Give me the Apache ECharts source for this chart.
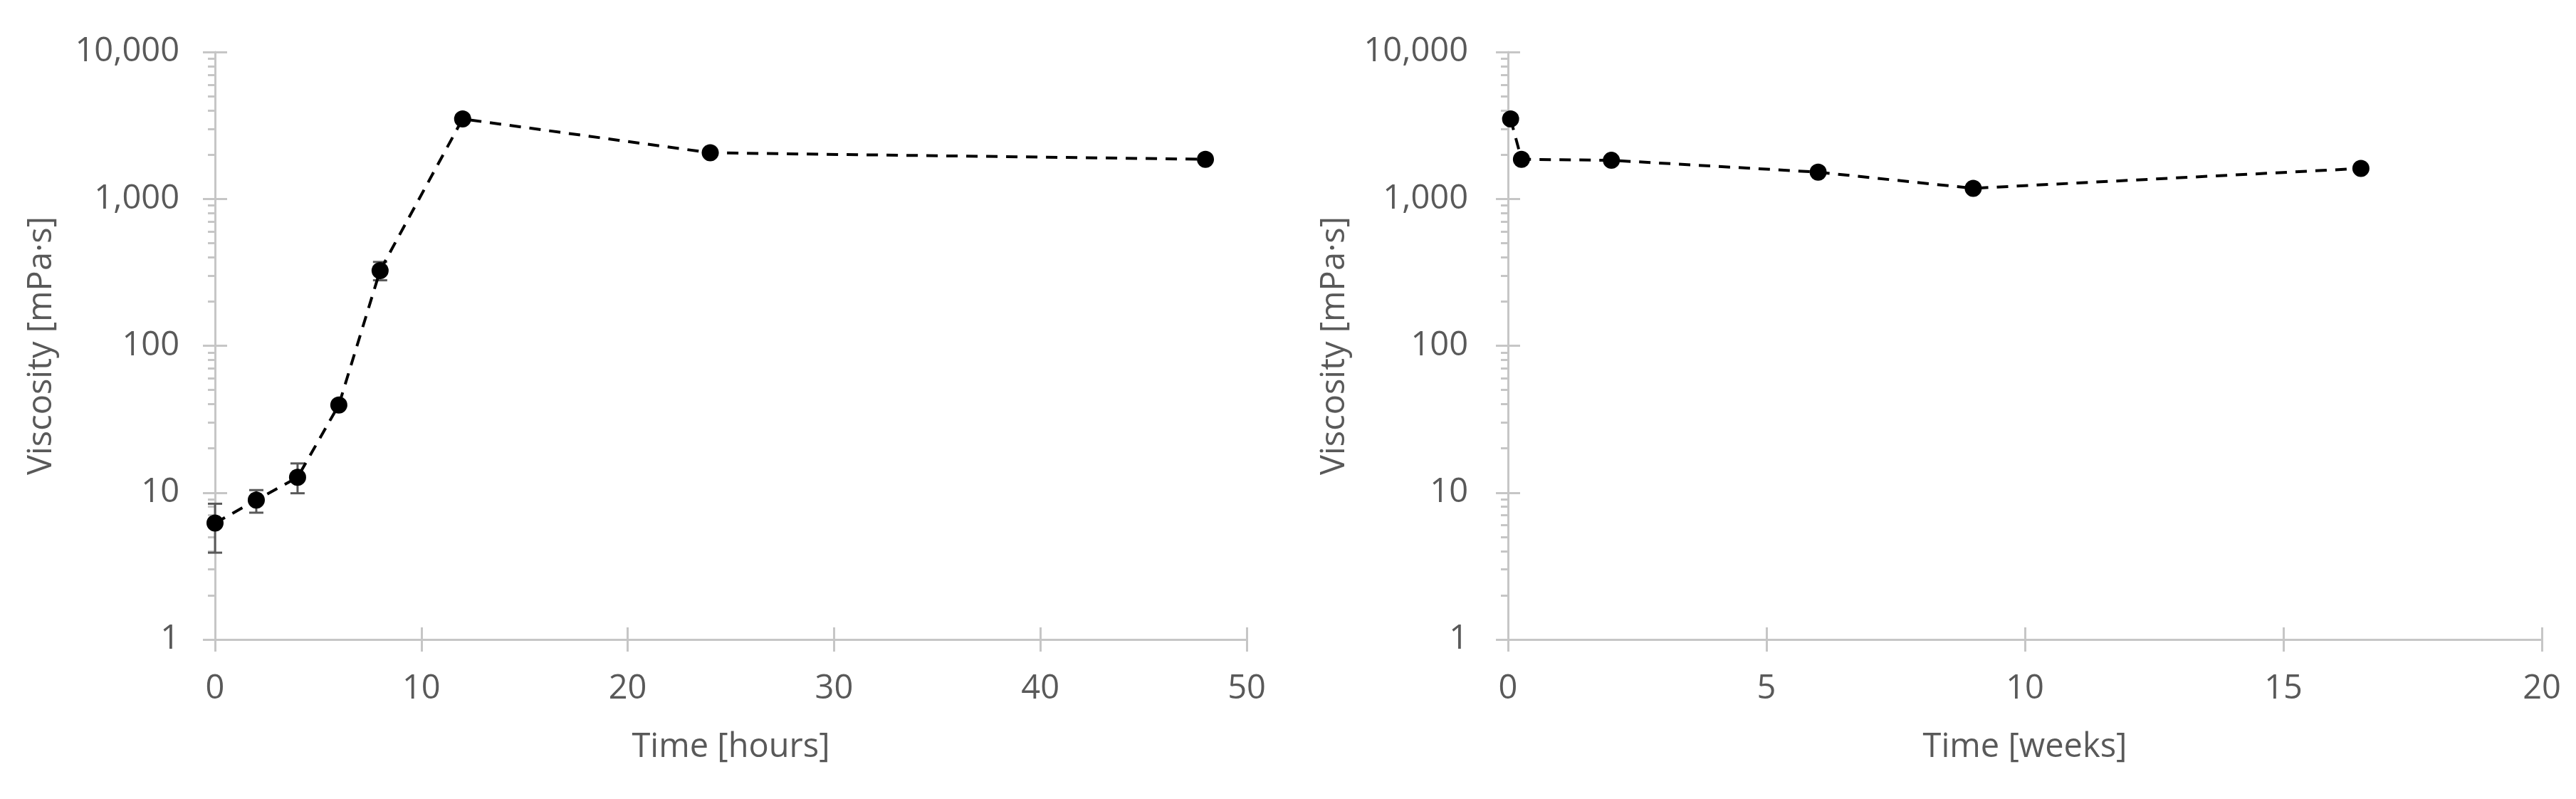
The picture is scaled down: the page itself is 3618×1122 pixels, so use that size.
<!DOCTYPE html>
<html>
<head>
<meta charset="utf-8">
<title>Viscosity over time</title>
<script src="https://cdn.jsdelivr.net/npm/echarts@6/dist/echarts.min.js"></script>
<style>
  html, body { margin: 0; padding: 0; background: #fff; }
  #viscosity-chart { width: 3618px; height: 1122px; }
</style>
</head>
<body>
<div id="viscosity-chart"></div>
<script>
// left panel: time in hours
var hoursX = [0, 2, 4, 6, 8, 12, 24, 48];
var hoursVisc = [6.2, 8.9, 12.7, 39.5, 325, 3500, 2060, 1860];
// error bars (low / high) where they show up
var hoursErrX = [0, 2, 4, 8];
var hoursErrLow = [3.9, 7.3, 9.9, 279];
var hoursErrHigh = [8.4, 10.4, 15.8, 372];

// right panel: time in weeks
var weeksX = [0.05, 0.26, 2, 6, 9, 16.5];
var weeksVisc = [3500, 1860, 1830, 1520, 1180, 1610];

// minor ticks of the log axis (2..9 in every decade)
var minorTickValues = [];
[1, 10, 100, 1000].forEach(function (d) {
  for (var k = 2; k <= 9; k++) minorTickValues.push(k * d);
});

var textColor = "#595959";
var axisColor = "#c6c6c6";
var font = "Open Sans";

function yAxes(gridIndex, labelMargin, nameGap) {
  var base = {
    gridIndex: gridIndex,
    type: "log",
    logBase: 10,
    min: 1,
    max: 10000,
    position: "left"
  };
  return [
    Object.assign({}, base, {
      name: "Viscosity [mPa·s]",
      nameLocation: "middle",
      nameGap: nameGap,
      nameTextStyle: { color: textColor, fontSize: 47, fontFamily: font },
      axisLine: { show: true, onZero: false, lineStyle: { color: axisColor, width: 3 } },
      axisTick: { show: true, length: 17, lineStyle: { color: axisColor, width: 3 } },
      axisLabel: {
        color: textColor,
        fontSize: 47,
        fontFamily: font,
        margin: labelMargin,
        formatter: function (v) {
          return Math.round(v).toLocaleString("en-US");
        }
      },
      splitLine: { show: false }
    }),
    // inner half of the major ticks
    Object.assign({}, base, {
      axisLine: { show: false },
      axisTick: { show: true, inside: true, length: 17, lineStyle: { color: axisColor, width: 3 } },
      axisLabel: { show: false },
      splitLine: { show: false }
    }),
    // minor ticks
    Object.assign({}, base, {
      axisLine: { show: false },
      axisTick: {
        show: true,
        length: 10,
        customValues: minorTickValues,
        lineStyle: { color: axisColor, width: 3 }
      },
      axisLabel: { show: false },
      splitLine: { show: false }
    })
  ];
}

function xAxes(gridIndex, max, interval, name) {
  var base = {
    gridIndex: gridIndex,
    type: "value",
    min: 0,
    max: max,
    interval: interval,
    position: "bottom"
  };
  return [
    Object.assign({}, base, {
      name: name,
      nameLocation: "middle",
      nameGap: 128,
      nameTextStyle: { color: textColor, fontSize: 47, fontFamily: font },
      axisLine: { show: true, onZero: false, lineStyle: { color: axisColor, width: 3 } },
      axisTick: { show: true, length: 17, lineStyle: { color: axisColor, width: 3 } },
      axisLabel: { color: textColor, fontSize: 47, fontFamily: font, margin: 46 },
      splitLine: { show: false }
    }),
    Object.assign({}, base, {
      axisLine: { show: false },
      axisTick: { show: true, inside: true, length: 17, lineStyle: { color: axisColor, width: 3 } },
      axisLabel: { show: false },
      splitLine: { show: false }
    })
  ];
}

function pairs(xs, ys) {
  return xs.map(function (x, i) { return [x, ys[i]]; });
}

function errorBars(params, api) {
  var x = api.value(0);
  var lo = api.coord([x, api.value(1)]);
  var hi = api.coord([x, api.value(2)]);
  var half = 10;
  var style = { stroke: "#595959", lineWidth: 3 };
  return {
    type: "group",
    children: [
      { type: "line", shape: { x1: lo[0], y1: lo[1], x2: hi[0], y2: hi[1] }, style: style },
      { type: "line", shape: { x1: lo[0] - half, y1: lo[1], x2: lo[0] + half, y2: lo[1] }, style: style },
      { type: "line", shape: { x1: hi[0] - half, y1: hi[1], x2: hi[0] + half, y2: hi[1] }, style: style }
    ]
  };
}

var lineSeries = {
  type: "line",
  symbol: "circle",
  symbolSize: 24,
  itemStyle: { color: "#000" },
  lineStyle: { color: "#000", width: 4, type: [16, 12] },
  z: 3
};

var option = {
  backgroundColor: "#fff",
  animation: false,
  grid: [
    { left: 302, right: 1867, top: 73, bottom: 224 },
    { left: 2118, right: 48, top: 73, bottom: 224 }
  ],
  xAxis: [].concat(
    xAxes(0, 50, 10, "Time [hours]"),
    xAxes(1, 20, 5, "Time [weeks]")
  ),
  yAxis: [].concat(yAxes(0, 50, 220), yAxes(1, 56, 220)),
  series: [
    {
      type: "custom",
      xAxisIndex: 0,
      yAxisIndex: 0,
      renderItem: errorBars,
      encode: { x: 0, y: [1, 2] },
      data: hoursErrX.map(function (x, i) { return [x, hoursErrLow[i], hoursErrHigh[i]]; }),
      z: 2
    },
    Object.assign({}, lineSeries, {
      xAxisIndex: 0,
      yAxisIndex: 0,
      data: pairs(hoursX, hoursVisc)
    }),
    Object.assign({}, lineSeries, {
      xAxisIndex: 2,
      yAxisIndex: 3,
      data: pairs(weeksX, weeksVisc)
    })
  ]
};

var chart = echarts.init(document.getElementById("viscosity-chart"));
chart.setOption(option);
window.addEventListener("resize", function () {
  chart.resize();
});
</script>
</body>
</html>
